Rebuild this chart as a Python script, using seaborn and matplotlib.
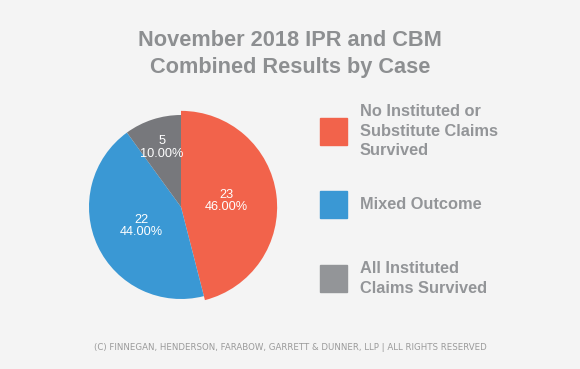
import seaborn as sns
import matplotlib.pyplot as plt
import numpy as np

# Data
categories = ["No Instituted or\nSubstitute Claims\nSurvived", "Mixed Outcome", "All Instituted\nClaims Survived"]
counts = [23, 22, 5]
colors = ["#F2634B", "#3A98D4", "#77787C"]
legend_colors = ["#F2634B", "#3A98D4", "#939598"]
title = "November 2018 IPR and CBM\nCombined Results by Case"
footer = "(C) FINNEGAN, HENDERSON, FARABOW, GARRETT & DUNNER, LLP | ALL RIGHTS RESERVED"

sns.set_theme(style="white")
plt.rcParams["font.family"] = ["Liberation Sans", "DejaVu Sans"]

bg = "#F4F4F4"
text_gray = "#8D8F91"

W, H = 580, 369
fig = plt.figure(figsize=(W / 100, H / 100), dpi=100, facecolor=bg)

# pie axes: centre (181, 207) px, radius 92 px
cx, cy, r = 181, 207, 92
half = r * 1.1
ax = fig.add_axes([(cx - half) / W, (H - cy - half) / H, 2 * half / W, 2 * half / H])
ax.set_facecolor(bg)

total = sum(counts)
wedges, _ = ax.pie(counts, colors=colors, startangle=90, counterclock=False,
                   wedgeprops=dict(linewidth=0))
# the first slice sits slightly proud of the others
wedges[0].set_radius(1.045)

label_dist = [0.5, 0.48, 0.68]
for w, n, d in zip(wedges, counts, label_dist):
    ang = np.deg2rad((w.theta1 + w.theta2) / 2)
    ax.text(d * np.cos(ang), d * np.sin(ang), f"{n}\n{n / total * 100:.2f}%",
            ha="center", va="center", color="white", fontsize=9.2, linespacing=1.05)

ax.set_xlim(-1.1, 1.1)
ax.set_ylim(-1.1, 1.1)
ax.axis("off")

# title
fig.text(0.5, 1 - 54 / H, title, ha="center", va="center", fontsize=15.7,
         fontweight="bold", color=text_gray, linespacing=1.35)

# legend drawn by hand
leg_y = [131, 204.5, 278.5]
sq = 27
for lab, col, y in zip(categories, legend_colors, leg_y):
    fig.patches.append(plt.Rectangle((320 / W, (H - y - sq / 2) / H), sq / W, sq / H,
                                     transform=fig.transFigure, color=col, figure=fig))
    fig.text(360 / W, 1 - y / H, lab, ha="left", va="center", fontsize=11.8,
             fontweight="bold", color="#939598", linespacing=1.4)

# footer
fig.text(0.5, 1 - 347 / H, footer, ha="center", va="center", fontsize=6.2,
         color="#9A9A9A", family="DejaVu Sans")

fig.savefig("out.png", dpi=100, facecolor=bg)
